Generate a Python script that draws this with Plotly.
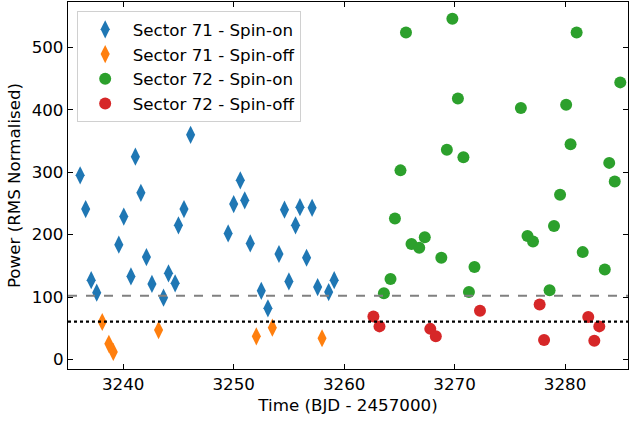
import plotly.graph_objects as go

# Sector 71 spin-on
s71_on_t = [3236.1, 3236.6, 3237.1, 3237.6, 3239.6, 3240.05, 3240.7, 3241.1, 3241.6, 3242.1,
            3242.6, 3243.65, 3244.1, 3244.7, 3245.0, 3245.5, 3246.1,
            3249.5, 3250.0, 3250.6, 3251.0, 3251.5, 3252.5, 3253.1, 3254.1, 3254.6, 3255.0,
            3255.6, 3256.0, 3256.6, 3257.1, 3257.6, 3258.6, 3259.1]
s71_on_p = [295, 241, 127, 107, 184, 229, 133, 325, 267, 164,
            121, 99, 138, 122, 215, 241, 360,
            202, 249, 287, 255, 186, 110, 82, 169, 240, 125,
            215, 244, 163, 243, 116, 108, 127]
# Sector 71 spin-off
s71_off_t = [3238.1, 3238.7, 3239.1, 3243.2, 3252.05, 3253.5, 3258.0]
s71_off_p = [60, 25, 12, 47, 37, 51, 34]
# Sector 72 spin-on
s72_on_t = [3263.6, 3264.2, 3264.6, 3265.1, 3265.6, 3266.1, 3266.8, 3267.3, 3268.8, 3269.3,
            3269.8, 3270.3, 3270.8, 3271.3, 3271.8,
            3276.0, 3276.6, 3277.1, 3278.6, 3279.0, 3279.55, 3280.1, 3280.5, 3281.05, 3281.6,
            3283.6, 3284.0, 3284.5, 3285.0]
s72_on_p = [106, 129, 226, 303, 524, 185, 179, 196, 163, 336,
            546, 418, 324, 108, 148,
            403, 198, 189, 111, 214, 264, 408, 345, 524, 172,
            144, 315, 285, 444]
# Sector 72 spin-off
s72_off_t = [3262.65, 3263.2, 3267.8, 3268.3, 3272.3, 3277.7, 3278.1, 3282.1, 3282.65, 3283.1]
s72_off_p = [69, 53, 49, 37, 78, 88, 31, 68, 30, 53]

dashed_level = 102
dotted_level = 60.5

series = [
    ("Sector 71 - Spin-on", s71_on_t, s71_on_p, "#1f77b4", "diamond-tall", 13),
    ("Sector 71 - Spin-off", s71_off_t, s71_off_p, "#ff7f0e", "diamond-tall", 13),
    ("Sector 72 - Spin-on", s72_on_t, s72_on_p, "#2ca02c", "circle", 12),
    ("Sector 72 - Spin-off", s72_off_t, s72_off_p, "#d62728", "circle", 12),
]

fig = go.Figure()
for name, t, p, c, sym, sz in series:
    fig.add_trace(go.Scatter(x=t, y=p, mode="markers", name=name,
                             marker=dict(color=c, symbol=sym, size=sz, line=dict(width=0))))

fig.add_hline(y=dashed_level, line=dict(color="#808080", width=2, dash="dash"))
fig.add_hline(y=dotted_level, line=dict(color="black", width=2.2, dash="dot"))

font = "DejaVu Sans"
fs = 16.7
fig.update_layout(
    width=630, height=422,
    margin=dict(l=68, r=2, t=2, b=53),
    paper_bgcolor="white", plot_bgcolor="white",
    font=dict(family=font, size=fs, color="black"),
    showlegend=True,
    legend=dict(x=0.0155, y=0.9755, xanchor="left", yanchor="top",
                bgcolor="rgba(255,255,255,0.8)", bordercolor="#d0d0d0", borderwidth=1,
                font=dict(size=fs), itemwidth=45, entrywidth=168, entrywidthmode="pixels"),
)
axis_common = dict(showline=True, linecolor="black", linewidth=1.3, mirror="ticks",
                   ticks="inside", ticklen=5, tickwidth=1.3, tickcolor="black",
                   showgrid=False, zeroline=False, tickfont=dict(size=fs))
fig.update_xaxes(range=[3235.0, 3285.7], tickvals=[3240, 3250, 3260, 3270, 3280],
                 title=dict(text="Time (BJD - 2457000)", font=dict(size=fs), standoff=6),
                 **axis_common)
fig.update_yaxes(range=[-15.3, 572.8], tickvals=[0, 100, 200, 300, 400, 500],
                 title=dict(text="Power (RMS Normalised)", font=dict(size=fs), standoff=6),
                 **axis_common)

fig.write_html("out.html")
